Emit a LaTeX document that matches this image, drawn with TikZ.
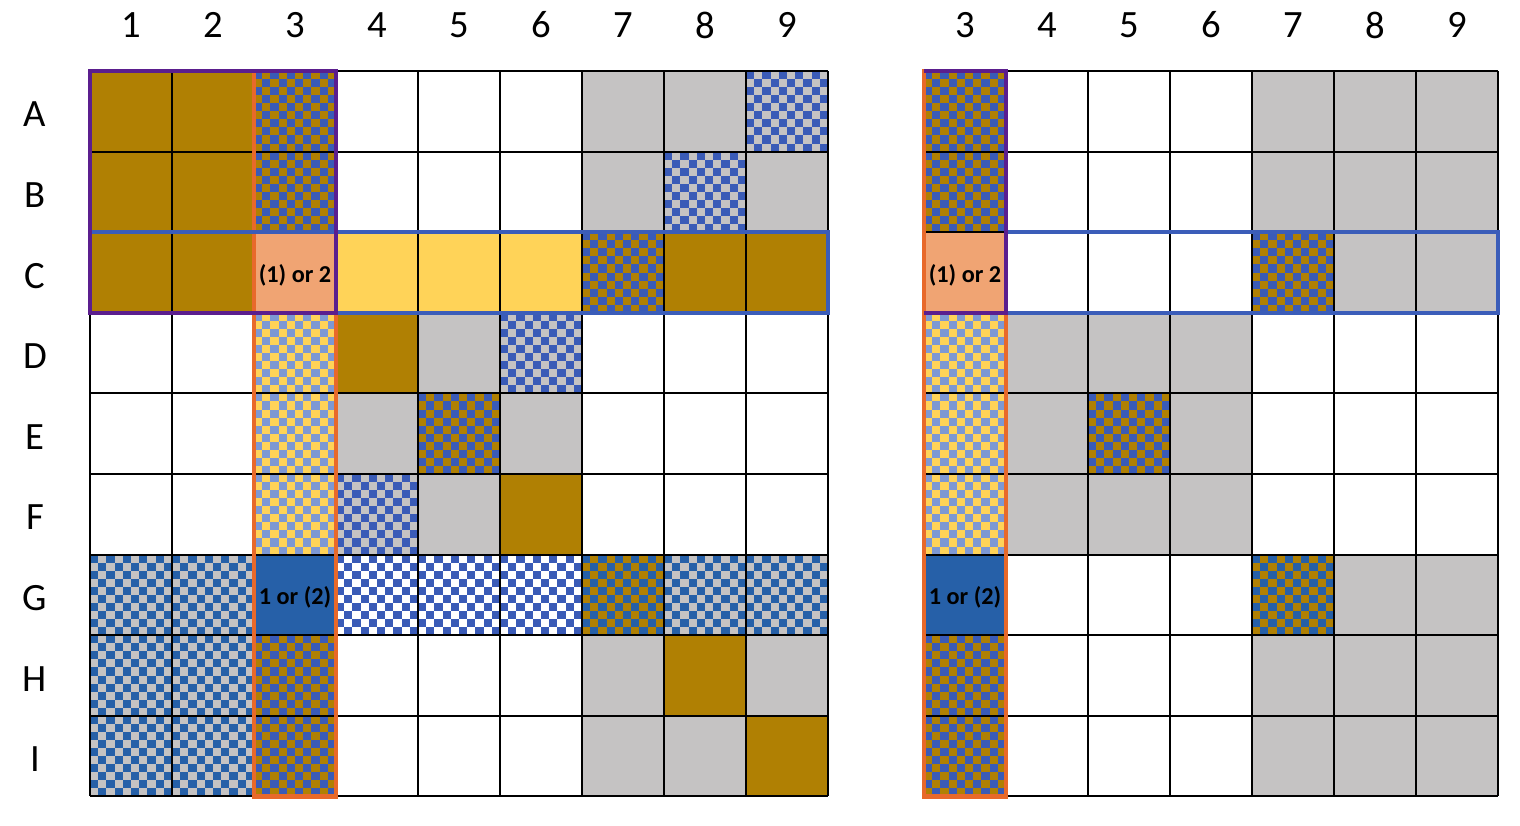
\documentclass[tikz,border=0pt]{standalone}
\usepackage{fontspec}
\setmainfont{Carlito}
\usepackage{tikz}
\usetikzlibrary{positioning}

\definecolor{goldc}{HTML}{B08003}
\definecolor{greyc}{HTML}{C5C3C3}
\definecolor{cblue}{HTML}{3A5BB7}
\definecolor{dblue}{HTML}{2660A8}
\definecolor{yellowc}{HTML}{FFD358}
\definecolor{lblue}{HTML}{7D98D4}
\definecolor{salmon}{HTML}{F0A473}
\definecolor{orangec}{HTML}{E8692A}
\definecolor{purplec}{HTML}{5B1E8E}
\definecolor{bluec}{HTML}{3B5DB9}

% one plain cell (col,row,colour)
\newcommand{\pcell}[3]{\fill[#3] (#1-1,#2-1) rectangle (#1,#2);}
% one checkered cell (col,row,back,front)
\newcommand{\pchk}[4]{\pcell{#1}{#2}{#3}
  \foreach \i in {0,...,9}{
    \foreach \j [evaluate=\j as \jj using {\j+mod(\i,2)}] in {0,2,...,8}
      \fill[#4] ({#1-1+\i/10},{#2-1+\jj/10}) rectangle ++(0.1,0.1);}}

\begin{document}
\begin{tikzpicture}[%
x=1.64cm, y=-1.612cm,
gridline/.style={black, line width=1.1pt},
frame/.style={line width=2.4pt},
label/.style={font=\fontsize{22}{26}\selectfont, inner sep=0pt},
celltext/.style={font=\bfseries\fontsize{13.8}{15}\selectfont, inner sep=0pt}
]
\useasboundingbox (0,0) rectangle (18.5366,10.248);

% left board
\begin{scope}[shift={(1.09756,0.88089)}]
\pcell{1}{1}{goldc} \pcell{2}{1}{goldc} \pchk{3}{1}{goldc}{cblue}
\pcell{7}{1}{greyc} \pcell{8}{1}{greyc} \pchk{9}{1}{greyc}{cblue}
\pcell{1}{2}{goldc} \pcell{2}{2}{goldc} \pchk{3}{2}{goldc}{cblue}
\pcell{7}{2}{greyc} \pchk{8}{2}{greyc}{cblue} \pcell{9}{2}{greyc}
\pcell{1}{3}{goldc} \pcell{2}{3}{goldc} \pcell{3}{3}{salmon}
\foreach \c in {4,5,6} {\pcell{\c}{3}{yellowc}}
\pchk{7}{3}{goldc}{cblue} \pcell{8}{3}{goldc} \pcell{9}{3}{goldc}
\foreach \r in {4,5,6} {\pchk{3}{\r}{yellowc}{lblue}}
\pcell{4}{4}{goldc} \pcell{5}{4}{greyc} \pchk{6}{4}{greyc}{cblue}
\pcell{4}{5}{greyc} \pchk{5}{5}{goldc}{cblue} \pcell{6}{5}{greyc}
\pchk{4}{6}{greyc}{cblue} \pcell{5}{6}{greyc} \pcell{6}{6}{goldc}
\foreach \c in {1,2,8,9} {\pchk{\c}{7}{greyc}{dblue}}
\pcell{3}{7}{dblue}
\foreach \c in {4,5,6} {\pchk{\c}{7}{white}{cblue}}
\pchk{7}{7}{goldc}{dblue}
\foreach \r in {8,9} {\pchk{1}{\r}{greyc}{dblue} \pchk{2}{\r}{greyc}{dblue} \pchk{3}{\r}{goldc}{cblue} \pcell{7}{\r}{greyc}}
\pcell{8}{8}{goldc} \pcell{9}{8}{greyc}
\pcell{8}{9}{greyc} \pcell{9}{9}{goldc}
\foreach \k in {0,...,9} {
  \draw[gridline] (\k,0) -- (\k,9);
  \draw[gridline] (0,\k) -- (9,\k);
}
\draw[frame, orangec] (2,0) rectangle (3,9);
\draw[frame, bluec] (0,2) rectangle (9,3);
\draw[frame, purplec] (0,0) rectangle (3,3);
\node[celltext] (lc3) at (2.5,2.53) {(1) or 2};
\node[celltext] (lg3) at (2.5,6.53) {1 or (2)};
\foreach \c in {1,...,9} {\node[label] (lcol\c) at (\c-0.5,-0.571) {\c};}
\foreach \r/\t in {1/A,2/B,3/C,4/D,5/E,6/F,7/G,8/H,9/I} {\node[label] (lrow\t) at (-0.671,\r-0.46) {\t};}
\end{scope}

% right board
\begin{scope}[shift={(11.26829,0.88089)}]
\foreach \r in {1,2,8,9} {\pchk{1}{\r}{goldc}{cblue} \foreach \c in {5,6,7} {\pcell{\c}{\r}{greyc}}}
\pcell{1}{3}{salmon} \pchk{5}{3}{goldc}{cblue} \pcell{6}{3}{greyc} \pcell{7}{3}{greyc}
\foreach \r in {4,5,6} {\pchk{1}{\r}{yellowc}{lblue} \pcell{2}{\r}{greyc} \pcell{3}{\r}{greyc} \pcell{4}{\r}{greyc}}
\pchk{3}{5}{goldc}{cblue}
\pcell{1}{7}{dblue} \pchk{5}{7}{goldc}{dblue} \pcell{6}{7}{greyc} \pcell{7}{7}{greyc}
\foreach \k in {0,...,7} {\draw[gridline] (\k,0) -- (\k,9);}
\foreach \k in {0,...,9} {\draw[gridline] (0,\k) -- (7,\k);}
\draw[frame, bluec] (1,2) rectangle (7,3);
\draw[frame, orangec] (0,0) rectangle (1,9);
\draw[frame, purplec] (0,0) -- (1,0) -- (1,3) -- (0,3);
\node[celltext] (rc3) at (0.5,2.53) {(1) or 2};
\node[celltext] (rg3) at (0.5,6.53) {1 or (2)};
\foreach \c in {3,...,9} {\node[label] (rcol\c) at (\c-2.5,-0.571) {\c};}
\end{scope}
\end{tikzpicture}
\end{document}
